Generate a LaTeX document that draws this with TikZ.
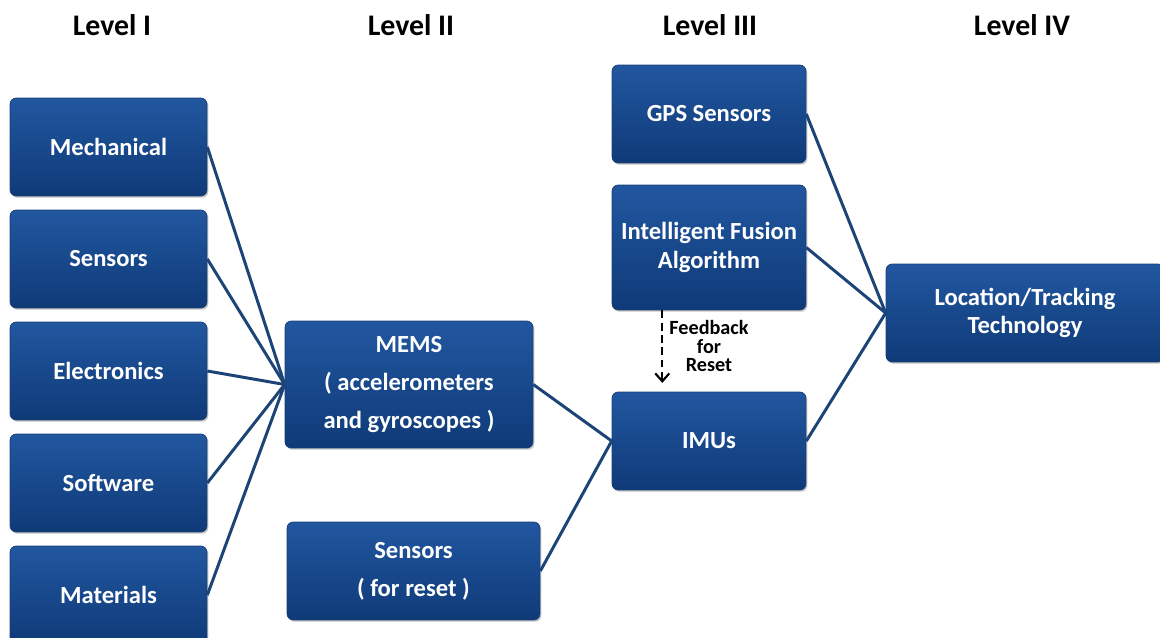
\documentclass[tikz,border=0pt]{standalone}
\usepackage{fontspec}
\setmainfont{Carlito}
\usetikzlibrary{positioning, calc, shadows, arrows.meta}
\definecolor{boxtop}{HTML}{2157A0}
\definecolor{boxbot}{HTML}{0F3A78}
\definecolor{boxline}{HTML}{1B3F73}
\definecolor{linkcol}{HTML}{1D4477}
\tikzstyle{Link} = [
%plain connector between boxes:
draw = linkcol, line width = 1.7pt
]
\tikzstyle{Feedback} = [
%dashed reset arrow:
dashed, dash pattern = on 4.5pt off 2.5pt, line width = 1.2pt,
-{Straight Barb[length = 4.5pt, width = 8pt]}
]

\begin{document}
\begin{tikzpicture}[x = 0.02cm, y = -0.02cm,
				block/.style = {rectangle, rounded corners = 3.5pt, draw = boxline, thin,
					top color = boxtop, bottom color = boxbot, text = white, align = center,
					font = \fontsize{14}{16}\selectfont\bfseries,
					drop shadow = {shadow xshift = 0.8pt, shadow yshift = -1pt, opacity = 0.45}},
				levelI/.style = {block, minimum width = 3.94cm, minimum height = 1.96cm},
				levelIII/.style = {block, minimum width = 3.88cm, minimum height = 1.96cm},
				heading/.style = {font = \fontsize{17}{20}\selectfont\bfseries},
				note/.style = {font = \fontsize{11.5}{10.3}\selectfont\bfseries, align = center},
			]
			\useasboundingbox (0,0) rectangle (1160,638);
			\begin{scope}
			\clip (0,0) rectangle (1160,638);

			% headings
			\node[heading](LvI) at (112,25){Level I};
			\node[heading](LvII) at (411,25){Level II};
			\node[heading](LvIII) at (710,25){Level III};
			\node[heading](LvIV) at (1022,25){Level IV};

			% level I
			\node[levelI](Mech) at (108.5,147){Mechanical};
			\node[levelI](Sens) at (108.5,259){Sensors};
			\node[levelI](Elec) at (108.5,371){Electronics};
			\node[levelI](Soft) at (108.5,483){Software};
			\node[levelI](Mat) at (108.5,595){Materials};

			% level II
			\node[block, minimum width = 4.96cm, minimum height = 2.54cm](MEMS) at (409,384.5)
				{MEMS\\[5.5pt] ( accelerometers\\[5.5pt] and gyroscopes )};
			\node[block, minimum width = 5.06cm, minimum height = 1.96cm](Reset) at (413.5,571)
				{Sensors\\[5.5pt] ( for reset )};

			% level III
			\node[levelIII](GPS) at (709,114){GPS Sensors};
			\node[levelIII, minimum height = 2.5cm](Fusion) at (709,247.5){Intelligent Fusion\\Algorithm};
			\node[levelIII](IMU) at (709,441){IMUs};

			% level IV
			\node[block, minimum width = 5.56cm, minimum height = 1.96cm](Loc) at (1025,313)
				{Location/Tracking\\Technology};

			\foreach \src in {Mech, Sens, Elec, Soft, Mat}
				\draw[Link](\src.east)--(MEMS.west);
			\draw[Link](MEMS.east)--(IMU.west);
			\draw[Link](Reset.east)--(IMU.west);
			\draw[Link](GPS.east)--(Loc.west);
			\draw[Link](Fusion.east)--(Loc.west);
			\draw[Link](IMU.east)--(Loc.west);

			\draw[Feedback]($(Fusion.south west)!0.26!(Fusion.south east)$)
				--([yshift = 5pt]$(IMU.north west)!0.26!(IMU.north east)$);
			\node[note](FbText) at (709,346){Feedback\\for\\Reset};
			\end{scope}

		\end{tikzpicture}
\end{document}
